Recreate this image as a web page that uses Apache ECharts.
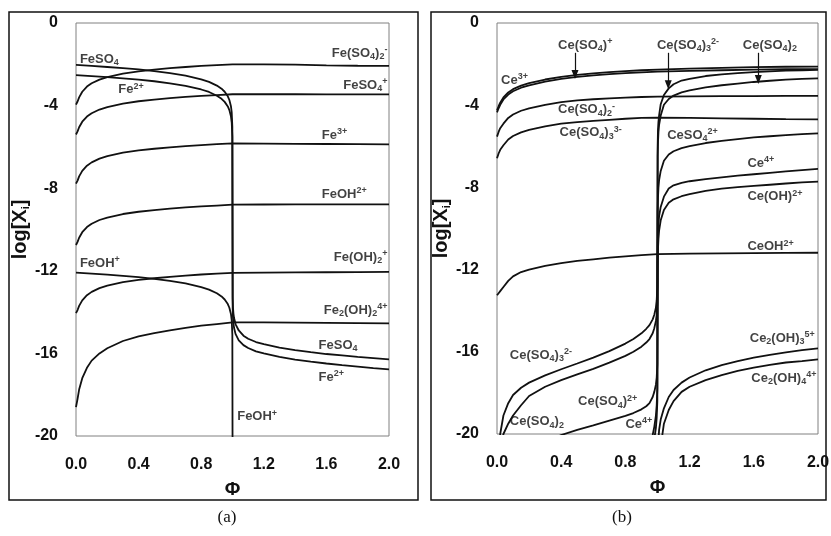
<!DOCTYPE html>
<html><head><meta charset="utf-8">
<script src="https://cdn.jsdelivr.net/npm/echarts@6/dist/echarts.min.js"></script>
<style>html,body{margin:0;padding:0;background:#fff}#c{width:831px;height:536px}</style>
</head><body><div id="c"></div>
<script>
// ---- Φ grids ----
const PHI_A = [0,0.01,0.02,0.04,0.07,0.1,0.15,0.2,0.3,0.4,0.5,0.6,0.7,0.8,0.9,1.0];
const PHI_B = [0,0.1,0.2,0.3,0.4,0.5,0.6,0.7,0.8,0.85,0.9,0.93,0.95,0.97,0.98,0.99,0.995,0.999];
const PHI_C = [1.001,1.003,1.006,1.01,1.02,1.04,1.07,1.1,1.15,1.2,1.3,1.4,1.5,1.6,1.7,1.8,1.9,2.0];
const PHI_D = [1.0,1.2,1.4,1.6,1.8,2.0];
const PHI_E = [0.005,0.01,0.02,0.04,0.07,0.1,0.15,0.2,0.3,0.4,0.5,0.6,0.7,0.8,0.85,0.9,0.93,0.95,0.97,0.98,0.99,0.995,0.999];
const PHI_F = [1.001];

// ---- panel (a): Fe species, log[X] ----
const FeSO4_pre   = [-2.03,-2.08,-2.13,-2.19,-2.25,-2.33,-2.43,-2.55,-2.73,-2.85,-3.03,-3.18,-3.33,-3.55,-3.73,-4.03,-4.33,-5.03];
const FeSO4_post  = [-13.29,-13.77,-14.07,-14.29,-14.59,-14.89,-15.14,-15.29,-15.45,-15.55,-15.72,-15.84,-15.94,-16.03,-16.1,-16.17,-16.23,-16.29];
const Fe2_pre     = [-2.52,-2.57,-2.62,-2.68,-2.74,-2.82,-2.92,-3.04,-3.22,-3.34,-3.52,-3.67,-3.82,-4.04,-4.22,-4.52,-4.82,-5.52];
const Fe2_post    = [-13.77,-14.25,-14.55,-14.77,-15.07,-15.37,-15.6,-15.74,-15.9,-16.0,-16.17,-16.3,-16.4,-16.49,-16.57,-16.64,-16.71,-16.77];
const FeOH_pre    = [-12.09,-12.14,-12.19,-12.25,-12.31,-12.39,-12.49,-12.61,-12.79,-12.91,-13.09,-13.24,-13.39,-13.61,-13.79,-14.09,-14.39,-15.09];
const FeOH_post   = [-23.4];
const FeSO42_pre  = [-3.95,-3.8,-3.6,-3.33,-3.08,-2.92,-2.74,-2.62,-2.45,-2.34,-2.26,-2.19,-2.13,-2.08,-2.04,-2.0];
const FeSO42_post = [-2.0,-2.0,-2.02,-2.05,-2.07,-2.08];
const FeSO4p_pre  = [-5.4,-5.25,-5.05,-4.78,-4.53,-4.37,-4.19,-4.07,-3.9,-3.79,-3.71,-3.64,-3.58,-3.53,-3.49,-3.45];
const FeSO4p_post = [-3.45,-3.45,-3.45,-3.46,-3.46,-3.46];
const Fe3_pre     = [-7.78,-7.63,-7.43,-7.16,-6.91,-6.75,-6.57,-6.45,-6.28,-6.17,-6.09,-6.02,-5.96,-5.91,-5.87,-5.83];
const Fe3_post    = [-5.83,-5.84,-5.85,-5.86,-5.87,-5.88];
const FeOH2_pre   = [-10.75,-10.6,-10.4,-10.13,-9.88,-9.72,-9.54,-9.42,-9.25,-9.14,-9.06,-8.99,-8.93,-8.88,-8.84,-8.8];
const FeOH2_post  = [-8.8,-8.79,-8.78,-8.78,-8.78,-8.78];
const FeOH2p_pre  = [-14.05,-13.9,-13.7,-13.43,-13.18,-13.02,-12.84,-12.72,-12.55,-12.44,-12.36,-12.29,-12.23,-12.18,-12.14,-12.1];
const FeOH2p_post = [-12.1,-12.09,-12.08,-12.07,-12.06,-12.05];
const Fe2OH2_pre  = [-18.6,-18.2,-17.75,-17.2,-16.7,-16.35,-16.0,-15.75,-15.4,-15.18,-15.02,-14.88,-14.76,-14.66,-14.58,-14.5];
const Fe2OH2_post = [-14.5,-14.5,-14.51,-14.52,-14.53,-14.55];

// ---- panel (b): Ce species, log[X] ----
const CeSO4p_pre   = [-4.25,-4.05,-3.88,-3.62,-3.38,-3.22,-3.05,-2.93,-2.75,-2.62,-2.52,-2.45,-2.39,-2.34,-2.3,-2.27];
const CeSO4p_post  = [-2.27,-2.22,-2.18,-2.15,-2.13,-2.12];
const Ce3_pre      = [-4.35,-4.15,-3.98,-3.72,-3.48,-3.32,-3.15,-3.03,-2.85,-2.72,-2.62,-2.55,-2.49,-2.44,-2.4,-2.37];
const Ce3_post     = [-2.37,-2.33,-2.3,-2.27,-2.25,-2.24];
const CeSO42m_pre  = [-5.53,-5.3,-5.12,-4.9,-4.62,-4.45,-4.27,-4.15,-3.98,-3.85,-3.77,-3.71,-3.67,-3.63,-3.6,-3.58];
const CeSO42m_post = [-3.58,-3.57,-3.56,-3.56,-3.55,-3.55];
const CeSO43m_pre  = [-6.58,-6.35,-6.17,-5.95,-5.67,-5.5,-5.32,-5.2,-5.03,-4.9,-4.82,-4.76,-4.71,-4.66,-4.62,-4.6];
const CeSO43m_post = [-4.6,-4.62,-4.64,-4.66,-4.68,-4.69];
const CeOH2_pre    = [-13.25,-13.15,-13.05,-12.85,-12.55,-12.33,-12.12,-12.0,-11.82,-11.68,-11.58,-11.5,-11.42,-11.36,-11.3,-11.25];
const CeOH2_post   = [-11.25,-11.22,-11.21,-11.2,-11.19,-11.18];
const CeSO43d_pre  = [-21.5,-20.9,-20.0,-19.1,-18.5,-18.1,-17.75,-17.5,-17.15,-16.85,-16.57,-16.28,-15.97,-15.6,-15.38,-15.1,-14.88,-14.7,-14.42,-14.2,-13.85,-13.5,-12.8];
const CeSO43d_post = [-6.0,-5.2,-4.8,-4.5,-3.95,-3.5,-3.18,-2.98,-2.8,-2.72,-2.58,-2.5,-2.44,-2.39,-2.35,-2.32,-2.3,-2.28];
const CeSO42_pre   = [-22.5,-21.8,-21.0,-20.0,-19.5,-19.1,-18.6,-18.15,-17.7,-17.38,-17.1,-16.83,-16.53,-16.2,-16.0,-15.75,-15.55,-15.38,-15.1,-14.85,-14.5,-14.2,-13.6];
const CeSO42_post  = [-6.5,-5.8,-5.3,-4.95,-4.5,-3.98,-3.7,-3.53,-3.38,-3.28,-3.13,-3.03,-2.95,-2.87,-2.81,-2.76,-2.72,-2.69];
const CeSO4d_pre   = [-25,-24.3,-23.5,-22.7,-22.0,-21.6,-21.1,-20.8,-20.4,-20.05,-19.8,-19.58,-19.35,-19.12,-18.98,-18.8,-18.65,-18.5,-18.2,-17.95,-17.6,-17.25,-16.6];
const CeSO4d_post  = [-9.2,-8.5,-8.0,-7.65,-7.2,-6.7,-6.4,-6.24,-6.09,-5.99,-5.84,-5.74,-5.65,-5.57,-5.51,-5.46,-5.41,-5.37];
const Ce4_pre      = [-28,-27.3,-26.5,-25.7,-25.0,-24.6,-24.1,-23.8,-23.4,-23.1,-22.8,-22.55,-22.3,-22.0,-21.8,-21.4,-21.0,-20.6,-20.05,-19.65,-19.1,-18.6,-17.8];
const Ce4_post     = [-11.0,-10.3,-9.8,-9.4,-8.95,-8.45,-8.05,-7.9,-7.78,-7.7,-7.6,-7.51,-7.43,-7.36,-7.29,-7.22,-7.16,-7.1];
const CeOHd_pre    = [-28.6,-27.9,-27.1,-26.3,-25.6,-25.2,-24.7,-24.4,-24.0,-23.7,-23.4,-23.15,-22.9,-22.6,-22.4,-22.0,-21.6,-21.2,-20.65,-20.25,-19.7,-19.2,-18.4];
const CeOHd_post   = [-11.8,-11.0,-10.5,-10.1,-9.6,-9.1,-8.75,-8.58,-8.43,-8.33,-8.17,-8.06,-7.99,-7.93,-7.87,-7.81,-7.76,-7.72];
const Ce2OH3_post  = [-23,-21.6,-20.3,-19.8,-19.3,-18.75,-18.2,-17.86,-17.5,-17.25,-16.9,-16.65,-16.45,-16.28,-16.15,-16.03,-15.92,-15.83];
const Ce2OH4_post  = [-25,-23.8,-22.8,-22.0,-20.6,-19.5,-18.83,-18.4,-17.95,-17.7,-17.38,-17.13,-16.93,-16.77,-16.64,-16.52,-16.45,-16.37];

// ---- axis ticks ----
const X_TICKS = [0, 0.4, 0.8, 1.2, 1.6, 2.0];
const Y_TICKS = [-20, -16, -12, -8, -4, 0];

// ---- curve labels: [text, Φ, logX, align] ----
const LABELS_A = [
  ['FeSO{s|4}', 0.025, -1.74, 'left'],
  ['Fe(SO{s|4}){s|2}{p|-}', 1.99, -1.45, 'right'],
  ['FeSO{s|4}{p|+}', 1.99, -3.0, 'right'],
  ['Fe{p|2+}', 0.27, -3.24, 'left'],
  ['Fe{p|3+}', 1.57, -5.42, 'left'],
  ['FeOH{p|2+}', 1.57, -8.28, 'left'],
  ['FeOH{p|+}', 0.025, -11.63, 'left'],
  ['Fe(OH){s|2}{p|+}', 1.99, -11.33, 'right'],
  ['Fe{s|2}(OH){s|2}{p|4+}', 1.99, -13.9, 'right'],
  ['FeSO{s|4}', 1.55, -15.6, 'left'],
  ['Fe{p|2+}', 1.55, -17.15, 'left'],
  ['FeOH{p|+}', 1.03, -19.06, 'left']
];
const LABELS_B = [
  ['Ce(SO{s|4}){p|+}', 0.55, -1.07, 'center'],
  ['Ce(SO{s|4}){s|3}{p|2-}', 1.19, -1.07, 'center'],
  ['Ce(SO{s|4}){s|2}', 1.70, -1.07, 'center'],
  ['Ce{p|3+}', 0.025, -2.77, 'left'],
  ['Ce(SO{s|4}){s|2}{p|-}', 0.38, -4.22, 'left'],
  ['Ce(SO{s|4}){s|3}{p|3-}', 0.39, -5.34, 'left'],
  ['CeSO{s|4}{p|2+}', 1.06, -5.45, 'left'],
  ['Ce{p|4+}', 1.56, -6.83, 'left'],
  ['Ce(OH){p|2+}', 1.56, -8.45, 'left'],
  ['CeOH{p|2+}', 1.56, -10.88, 'left'],
  ['Ce(SO{s|4}){s|3}{p|2-}', 0.08, -16.16, 'left'],
  ['Ce(SO{s|4}){p|2+}', 0.505, -18.43, 'left'],
  ['Ce(SO{s|4}){s|2}', 0.08, -19.4, 'left'],
  ['Ce{p|4+}', 0.8, -19.51, 'left'],
  ['Ce{s|2}(OH){s|3}{p|5+}', 1.98, -15.35, 'right'],
  ['Ce{s|2}(OH){s|4}{p|4+}', 1.99, -17.29, 'right']
];
// arrows in panel (b): [Φ, from logX, to logX]
const ARROWS_B = [[0.486, -1.45, -2.5], [1.067, -1.45, -3.0], [1.628, -1.45, -2.75]];

// ---- build ----
const FONT = '"Liberation Sans", Arial, Helvetica, sans-serif';
const zip = (xs, ys) => xs.map((x, i) => [x, ys[i]]);
const CURVES_A = [
  [PHI_B, FeSO4_pre, PHI_C, FeSO4_post],
  [PHI_B, Fe2_pre, PHI_C, Fe2_post],
  [PHI_B, FeOH_pre, PHI_F, FeOH_post],
  [PHI_A, FeSO42_pre, PHI_D, FeSO42_post],
  [PHI_A, FeSO4p_pre, PHI_D, FeSO4p_post],
  [PHI_A, Fe3_pre, PHI_D, Fe3_post],
  [PHI_A, FeOH2_pre, PHI_D, FeOH2_post],
  [PHI_A, FeOH2p_pre, PHI_D, FeOH2p_post],
  [PHI_A, Fe2OH2_pre, PHI_D, Fe2OH2_post]
];
const CURVES_B = [
  [PHI_A, CeSO4p_pre, PHI_D, CeSO4p_post],
  [PHI_A, Ce3_pre, PHI_D, Ce3_post],
  [PHI_A, CeSO42m_pre, PHI_D, CeSO42m_post],
  [PHI_A, CeSO43m_pre, PHI_D, CeSO43m_post],
  [PHI_A, CeOH2_pre, PHI_D, CeOH2_post],
  [PHI_E, CeSO43d_pre, PHI_C, CeSO43d_post],
  [PHI_E, CeSO42_pre, PHI_C, CeSO42_post],
  [PHI_E, CeSO4d_pre, PHI_C, CeSO4d_post],
  [PHI_E, Ce4_pre, PHI_C, Ce4_post],
  [PHI_E, CeOHd_pre, PHI_C, CeOHd_post],
  [[], [], PHI_C, Ce2OH3_post],
  [[], [], PHI_C, Ce2OH4_post]
];

const rich = {
  s: {fontSize: 9, fontWeight: 'bold', fontFamily: FONT, color: '#111', verticalAlign: 'bottom'},
  p: {fontSize: 9, fontWeight: 'bold', fontFamily: FONT, color: '#111', verticalAlign: 'top'}
};

function lineSeries(c, idx) {
  return {
    type: 'line', xAxisIndex: idx, yAxisIndex: idx, silent: true, animation: false,
    showSymbol: false, symbol: 'none', clip: true,
    lineStyle: {color: '#111', width: 1.8},
    data: zip(c[0], c[1]).concat(zip(c[2], c[3]))
  };
}
function labelSeries(list, idx, arrows) {
  const s = {
    type: 'scatter', xAxisIndex: idx, yAxisIndex: idx, silent: true, animation: false,
    symbolSize: 1, itemStyle: {color: 'rgba(0,0,0,0)'}, z: 5,
    data: list.map(l => ({
      value: [l[1], l[2]],
      label: {
        show: true, position: 'inside', align: l[3], verticalAlign: 'middle',
        formatter: l[0], fontSize: 13, fontWeight: 'bold', fontFamily: FONT,
        color: '#111', lineHeight: 16, rich: rich
      }
    }))
  };
  if (arrows) {
    s.markLine = {
      silent: true, animation: false, symbol: ['none', 'triangle'], symbolSize: [7, 9],
      lineStyle: {color: '#111', width: 1.2, type: 'solid'}, label: {show: false},
      data: arrows.map(a => [{coord: [a[0], a[1]]}, {coord: [a[0], a[2]]}])
    };
  }
  return s;
}

function xAxis(idx) {
  return {
    type: 'value', gridIndex: idx, min: X_TICKS[0], max: X_TICKS[X_TICKS.length - 1], interval: 0.4,
    axisLine: {show: false}, axisTick: {show: false}, splitLine: {show: false},
    axisLabel: {fontSize: 16, fontWeight: 'bold', fontFamily: FONT, color: '#111', margin: 21,
      formatter: v => v.toFixed(1)},
    name: 'Φ', nameLocation: 'middle', nameGap: 44,
    nameTextStyle: {fontSize: 19, fontWeight: 'bold', fontFamily: FONT, color: '#111'}
  };
}
function yAxis(idx) {
  return {
    type: 'value', gridIndex: idx, min: Y_TICKS[0], max: Y_TICKS[Y_TICKS.length - 1], interval: 4,
    axisLine: {show: false}, axisTick: {show: false}, splitLine: {show: false},
    axisLabel: {fontSize: 16, fontWeight: 'bold', fontFamily: FONT, color: '#111', margin: 18},
    name: 'log[X{i|i}]', nameLocation: 'middle', nameGap: idx === 0 ? 42 : 40,
    nameTextStyle: {fontSize: 20, fontWeight: 'bold', fontFamily: FONT, color: '#111',
      rich: {i: {fontSize: 11, fontWeight: 'bold', fontFamily: FONT, color: '#111', verticalAlign: 'bottom'}}}
  };
}

const chart = echarts.init(document.getElementById('c'), null, {renderer: 'canvas'});
chart.setOption({
  backgroundColor: '#fff',
  animation: false,
  grid: [
    {left: 76, top: 23, width: 313, height: 413, show: true, borderColor: '#808080', borderWidth: 1,
      backgroundColor: 'transparent', containLabel: false, outerBoundsMode: 'none'},
    {left: 497, top: 23, width: 321, height: 411, show: true, borderColor: '#808080', borderWidth: 1,
      backgroundColor: 'transparent', containLabel: false, outerBoundsMode: 'none'}
  ],
  xAxis: [xAxis(0), xAxis(1)],
  yAxis: [yAxis(0), yAxis(1)],
  graphic: [
    {type: 'rect', shape: {x: 9, y: 12, width: 409, height: 488}, style: {fill: null, stroke: '#111', lineWidth: 1.5}, silent: true},
    {type: 'rect', shape: {x: 431, y: 12, width: 395, height: 488}, style: {fill: null, stroke: '#111', lineWidth: 1.5}, silent: true},
    {type: 'text', x: 227, y: 518, style: {text: '(a)', font: '17px "Liberation Serif", "Times New Roman", serif', fill: '#111', textAlign: 'center', textVerticalAlign: 'middle'}, silent: true},
    {type: 'text', x: 622, y: 518, style: {text: '(b)', font: '17px "Liberation Serif", "Times New Roman", serif', fill: '#111', textAlign: 'center', textVerticalAlign: 'middle'}, silent: true}
  ],
  series: CURVES_A.map(c => lineSeries(c, 0))
    .concat(CURVES_B.map(c => lineSeries(c, 1)))
    .concat([labelSeries(LABELS_A, 0, null), labelSeries(LABELS_B, 1, ARROWS_B)])
});
</script></body></html>
